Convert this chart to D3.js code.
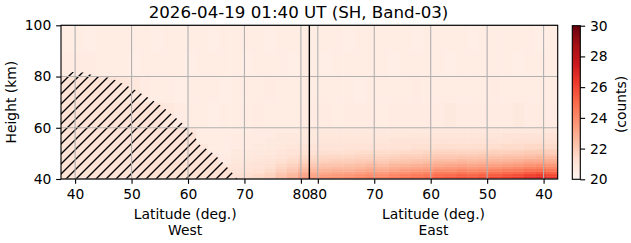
<!DOCTYPE html>
<html>
<head>
<meta charset="utf-8">
<script src="https://cdn.jsdelivr.net/npm/d3@7"></script>
<style>
  html, body { margin: 0; padding: 0; background: #ffffff; }
  svg { display: block; font-family: "DejaVu Sans", sans-serif; }
</style>
</head>
<body>
<svg id="chart" width="631" height="243"></svg>
<script>
// ---------------- data ----------------
const titleText = "2026-04-19 01:40 UT (SH, Band-03)";
const dividerLat = 81.5;
const latWestEdges = [37.5,39.5,41.5,43.5,45.5,47.5,49.5,51.5,53.5,55.5,57.5,59.5,61.5,63.5,65.5,67.5,69.5,71.5,73.5,75.5,77.5,79.5,81.5];
const latEastEdges = [81.5,79.5,77.5,75.5,73.5,71.5,69.5,67.5,65.5,63.5,61.5,59.5,57.5,55.5,53.5,51.5,49.5,47.5,45.5,43.5,41.5,39.5,37.5];
const heightEdges = [40,41,42,43,44,45,46,47,48,49,50,51,52,54,56,58,60,70,80,90,100];

const westTicks = [40,50,60,70,80];
const eastTicks = [80,70,60,50,40];
const heightTicks = [40,60,80,100];
const cbTicks = [20,22,24,26,28,30];
const colorLimits = [20,30];

// counts per height row (bottom to top), West columns ordered 38.5 -> 80.5 deg
const countsWest = [
 [21.1,21.1,21.1,21.1,21.1,21.1,21.1,21.2,21.2,21.2,21.2,21.2,21.3,21.3,21.3,21.3,21.4,21.6,21.9,22.4,22.9,23.6],
 [21.1,21.1,21.1,21.1,21.1,21.1,21.1,21.2,21.2,21.2,21.2,21.2,21.2,21.2,21.2,21.2,21.3,21.5,21.7,22.2,22.6,23.2],
 [21.1,21.1,21.1,21.1,21.1,21.1,21.1,21.2,21.2,21.2,21.2,21.2,21.2,21.2,21.2,21.1,21.2,21.3,21.6,22.0,22.3,22.9],
 [21.1,21.1,21.1,21.1,21.1,21.1,21.1,21.2,21.2,21.2,21.2,21.2,21.2,21.2,21.2,21.0,21.1,21.2,21.4,21.8,22.1,22.6],
 [21.1,21.1,21.1,21.1,21.1,21.1,21.1,21.2,21.2,21.2,21.2,21.2,21.2,21.2,21.1,21.0,21.0,21.1,21.3,21.6,21.9,22.3],
 [21.1,21.1,21.1,21.1,21.1,21.1,21.1,21.2,21.2,21.2,21.2,21.2,21.2,21.1,20.9,20.9,21.0,21.1,21.2,21.5,21.7,22.1],
 [21.1,21.1,21.1,21.1,21.1,21.1,21.1,21.2,21.2,21.2,21.2,21.2,21.1,21.1,20.6,20.8,20.9,21.0,21.1,21.3,21.5,21.8],
 [21.1,21.1,21.1,21.1,21.1,21.1,21.1,21.1,21.1,21.1,21.1,21.1,21.1,21.1,20.6,20.8,20.8,20.9,21.0,21.2,21.4,21.6],
 [21.1,21.1,21.1,21.1,21.1,21.1,21.1,21.1,21.1,21.1,21.1,21.1,21.1,21.0,20.6,20.8,20.8,20.9,20.9,21.1,21.3,21.5],
 [21.1,21.1,21.1,21.1,21.1,21.1,21.1,21.1,21.1,21.1,21.1,21.1,21.1,20.8,20.6,20.7,20.7,20.8,20.9,21.0,21.1,21.3],
 [21.1,21.1,21.1,21.1,21.1,21.1,21.1,21.1,21.1,21.1,21.1,21.1,21.1,20.6,20.5,20.7,20.7,20.8,20.8,20.9,21.1,21.2],
 [21.1,21.1,21.1,21.1,21.1,21.1,21.1,21.1,21.1,21.1,21.1,21.1,21.0,20.5,20.5,20.7,20.7,20.7,20.8,20.9,21.0,21.1],
 [21.1,21.1,21.1,21.1,21.1,21.1,21.1,21.1,21.1,21.1,21.1,21.1,20.8,20.5,20.5,20.6,20.6,20.7,20.7,20.8,20.9,21.0],
 [21.1,21.1,21.1,21.1,21.1,21.1,21.1,21.1,21.1,21.1,21.1,21.1,20.5,20.5,20.5,20.6,20.6,20.6,20.7,20.7,20.8,20.8],
 [21.1,21.1,21.1,21.1,21.1,21.1,21.1,21.1,21.1,21.1,21.1,21.1,20.5,20.5,20.5,20.6,20.6,20.6,20.6,20.7,20.7,20.7],
 [21.1,21.1,21.1,21.1,21.1,21.1,21.1,21.1,21.1,21.1,21.1,20.8,20.5,20.5,20.5,20.5,20.5,20.6,20.6,20.6,20.6,20.7],
 [21.1,21.1,21.1,21.1,21.1,21.1,21.1,21.1,21.0,20.8,20.6,20.5,20.5,20.4,20.5,20.5,20.5,20.6,20.5,20.5,20.5,20.6],
 [21.1,21.1,21.1,21.1,21.0,20.9,20.8,20.6,20.5,20.5,20.4,20.5,20.5,20.5,20.4,20.5,20.5,20.5,20.6,20.5,20.5,20.5],
 [20.6,20.6,20.6,20.5,20.5,20.5,20.4,20.5,20.5,20.5,20.5,20.4,20.5,20.5,20.5,20.5,20.4,20.5,20.5,20.5,20.4,20.5],
 [20.5,20.5,20.4,20.5,20.5,20.5,20.5,20.5,20.4,20.5,20.5,20.5,20.5,20.4,20.5,20.5,20.5,20.5,20.4,20.5,20.5,20.5]
];
// counts per height row (bottom to top), East columns ordered 80.5 -> 38.5 deg
const countsEast = [
 [23.6,23.8,23.9,24.0,24.2,24.4,24.3,24.6,24.8,25.0,25.2,25.5,25.6,25.8,25.7,25.9,26.1,26.3,26.5,26.9,27.1,26.6],
 [23.2,23.4,23.5,23.6,23.8,23.9,23.8,24.1,24.3,24.5,24.6,24.9,25.0,25.2,25.1,25.3,25.4,25.6,25.8,26.1,26.3,25.9],
 [22.9,23.0,23.1,23.2,23.3,23.5,23.4,23.7,23.8,24.0,24.1,24.4,24.4,24.6,24.5,24.7,24.8,25.0,25.1,25.4,25.6,25.2],
 [22.6,22.7,22.8,22.8,23.0,23.1,23.0,23.2,23.4,23.5,23.6,23.9,23.9,24.1,24.0,24.1,24.3,24.4,24.5,24.8,24.9,24.6],
 [22.3,22.4,22.5,22.5,22.6,22.8,22.7,22.9,23.0,23.1,23.2,23.4,23.5,23.6,23.5,23.6,23.7,23.9,24.0,24.2,24.3,24.0],
 [22.1,22.2,22.2,22.3,22.4,22.5,22.4,22.6,22.7,22.8,22.9,23.0,23.1,23.2,23.1,23.2,23.3,23.4,23.5,23.7,23.8,23.6],
 [21.8,21.9,22.0,22.0,22.1,22.2,22.1,22.3,22.3,22.4,22.5,22.7,22.7,22.8,22.7,22.8,22.9,23.0,23.1,23.3,23.3,23.1],
 [21.6,21.7,21.8,21.8,21.9,21.9,21.9,22.0,22.1,22.2,22.2,22.4,22.4,22.5,22.4,22.5,22.6,22.6,22.7,22.9,22.9,22.8],
 [21.5,21.6,21.6,21.6,21.7,21.7,21.7,21.8,21.9,21.9,22.0,22.1,22.1,22.2,22.2,22.2,22.3,22.4,22.4,22.5,22.6,22.5],
 [21.3,21.4,21.4,21.4,21.5,21.6,21.5,21.6,21.7,21.7,21.8,21.9,21.9,21.9,21.9,22.0,22.0,22.1,22.1,22.2,22.3,22.1],
 [21.2,21.3,21.3,21.3,21.4,21.4,21.4,21.4,21.5,21.5,21.6,21.7,21.7,21.7,21.7,21.7,21.8,21.8,21.9,22.0,22.0,21.9],
 [21.1,21.1,21.1,21.2,21.2,21.2,21.2,21.3,21.3,21.4,21.4,21.5,21.5,21.5,21.5,21.5,21.6,21.6,21.6,21.7,21.8,21.7],
 [21.0,21.0,21.0,21.0,21.1,21.1,21.1,21.1,21.1,21.2,21.2,21.3,21.3,21.3,21.3,21.3,21.3,21.4,21.4,21.5,21.5,21.4],
 [20.8,20.9,20.9,20.9,20.9,20.9,20.9,21.0,21.0,21.0,21.0,21.1,21.1,21.1,21.1,21.1,21.1,21.1,21.2,21.2,21.2,21.2],
 [20.7,20.8,20.8,20.8,20.8,20.8,20.8,20.8,20.8,20.9,20.9,20.9,20.9,20.9,20.9,20.9,20.9,21.0,21.0,21.0,21.0,21.0],
 [20.7,20.7,20.7,20.7,20.7,20.7,20.7,20.7,20.7,20.7,20.7,20.8,20.8,20.8,20.8,20.8,20.8,20.8,20.8,20.8,20.8,20.8],
 [20.6,20.6,20.5,20.6,20.6,20.6,20.5,20.6,20.6,20.6,20.6,20.6,20.7,20.6,20.6,20.6,20.6,20.6,20.7,20.6,20.6,20.6],
 [20.5,20.5,20.5,20.5,20.4,20.5,20.5,20.5,20.5,20.6,20.5,20.5,20.5,20.5,20.5,20.5,20.6,20.5,20.5,20.5,20.5,20.5],
 [20.5,20.4,20.5,20.5,20.5,20.5,20.5,20.4,20.5,20.5,20.5,20.5,20.4,20.5,20.5,20.5,20.5,20.5,20.4,20.5,20.5,20.5],
 [20.5,20.5,20.5,20.4,20.5,20.5,20.5,20.5,20.5,20.4,20.5,20.5,20.5,20.5,20.4,20.5,20.5,20.5,20.5,20.5,20.4,20.5]
];
// hatched (masked) region boundary, West side
const hatchLat =    [37.5, 39.5, 41.5, 43.0, 46.3, 49.0, 50.2, 53.2, 55.5, 57.3, 60.6, 62.1, 63.9, 65.6, 67.4, 68.8];
const hatchHeight = [79.2, 81.8, 81.6, 80.6, 79.4, 76.6, 75.3, 71.4, 68.2, 64.9, 58.7, 53.3, 50.9, 47.7, 43.5, 40.0];

const redsColors = ["#fff5f0","#fee0d2","#fcbba1","#fc9272","#fb6a4a","#ef3b2c","#cb181d","#a50f15","#67000d"];

// ---------------- layout ----------------
const PX = 100/72;             // points -> pixels
const pL = 61, pR = 557.7, pT = 25.3, pB = 179;
const fs = 10 * PX;

const svg = d3.select("#chart");

const xWest = d3.scaleLinear().domain([latWestEdges[0], dividerLat]).range([pL, (pL + pR) / 2]);
const xEast = d3.scaleLinear().domain([dividerLat, latEastEdges[latEastEdges.length - 1]]).range([(pL + pR) / 2, pR]);
const y = d3.scaleLinear().domain([heightTicks[0], heightTicks[heightTicks.length - 1]]).range([pB, pT]);

const colorDomain = redsColors.map((c, i) => colorLimits[0] + i * (colorLimits[1] - colorLimits[0]) / (redsColors.length - 1));
const color = d3.scaleLinear().domain(colorDomain).range(redsColors).interpolate(d3.interpolateRgb).clamp(true);

// ---------------- heatmap ----------------
const cells = [];
countsWest.forEach((row, i) => row.forEach((v, j) => cells.push({
  x0: xWest(latWestEdges[j]), x1: xWest(latWestEdges[j + 1]),
  y0: y(heightEdges[i + 1]), y1: y(heightEdges[i]), v })));
countsEast.forEach((row, i) => row.forEach((v, j) => cells.push({
  x0: xEast(latEastEdges[j]), x1: xEast(latEastEdges[j + 1]),
  y0: y(heightEdges[i + 1]), y1: y(heightEdges[i]), v })));

svg.append("g").selectAll("rect").data(cells).join("rect")
  .attr("x", d => d.x0).attr("y", d => d.y0)
  .attr("width", d => Math.min(d.x1 - d.x0 + 0.4, pR - d.x0)).attr("height", d => Math.min(d.y1 - d.y0 + 0.4, pB - d.y0))
  .attr("fill", d => color(d.v));

// ---------------- hatch ----------------
const defs = svg.append("defs");
const pat = defs.append("pattern").attr("id", "hatch")
  .attr("patternUnits", "userSpaceOnUse").attr("width", 10).attr("height", 10);
pat.append("path").attr("d", "M-1,6 L6,-1 M4,11 L11,4")
  .attr("stroke", "#000").attr("stroke-width", 1.0 * PX).attr("fill", "none");

const clip = defs.append("clipPath").attr("id", "plotclip");
clip.append("rect").attr("x", pL).attr("y", pT).attr("width", pR - pL).attr("height", pB - pT);

const hatchPts = [[hatchLat[0], heightTicks[0]]].concat(hatchLat.map((l, i) => [l, hatchHeight[i]]));
svg.append("path")
  .attr("clip-path", "url(#plotclip)")
  .attr("d", d3.line().x(d => xWest(d[0])).y(d => y(d[1]))(hatchPts) + "Z")
  .attr("fill", "url(#hatch)").attr("stroke", "none");

// ---------------- grid ----------------
const grid = svg.append("g").attr("stroke", "#b0b0b0").attr("stroke-width", 0.8 * PX).attr("fill", "none");
westTicks.forEach(t => grid.append("line").attr("x1", xWest(t)).attr("x2", xWest(t)).attr("y1", pT).attr("y2", pB));
eastTicks.forEach(t => grid.append("line").attr("x1", xEast(t)).attr("x2", xEast(t)).attr("y1", pT).attr("y2", pB));
heightTicks.forEach(t => grid.append("line").attr("x1", pL).attr("x2", pR).attr("y1", y(t)).attr("y2", y(t)));

// divider
svg.append("line").attr("x1", xWest(dividerLat)).attr("x2", xWest(dividerLat))
  .attr("y1", pT).attr("y2", pB).attr("stroke", "#000").attr("stroke-width", 1.0 * PX);

// spines
svg.append("rect").attr("x", pL).attr("y", pT).attr("width", pR - pL).attr("height", pB - pT)
  .attr("fill", "none").attr("stroke", "#000").attr("stroke-width", 0.8 * PX);

// ---------------- axes ----------------
function styleAxis(g) {
  g.select(".domain").remove();
  g.selectAll(".tick line").attr("stroke", "#000").attr("stroke-width", 0.8 * PX);
  g.selectAll(".tick text").attr("fill", "#000").style("font-size", fs + "px").style("font-family", "DejaVu Sans");
}
const tk = 3.5 * PX;
svg.append("g").attr("transform", `translate(0,${pB})`)
  .call(d3.axisBottom(xWest).tickValues(westTicks).tickFormat(d3.format("d")).tickSize(tk).tickPadding(tk))
  .call(styleAxis);
svg.append("g").attr("transform", `translate(0,${pB})`)
  .call(d3.axisBottom(xEast).tickValues(eastTicks).tickFormat(d3.format("d")).tickSize(tk).tickPadding(tk))
  .call(styleAxis);
svg.append("g").attr("transform", `translate(${pL},0)`)
  .call(d3.axisLeft(y).tickValues(heightTicks).tickFormat(d3.format("d")).tickSize(tk).tickPadding(tk))
  .call(styleAxis);

// axis labels
const txt = (x, yy, s, size, anchor) => svg.append("text").attr("x", x).attr("y", yy)
  .attr("text-anchor", anchor || "middle").style("font-size", size + "px").attr("fill", "#000").text(s);
const wC = (pL + (pL + pR) / 2) / 2, eC = ((pL + pR) / 2 + pR) / 2;
txt(wC, 219.4, "Latitude (deg.)", fs);
txt(wC, 235.2, "West", fs);
txt(eC, 219.4, "Latitude (deg.)", fs);
txt(eC, 235.2, "East", fs);
svg.append("text").attr("transform", `translate(16,${(pT + pB) / 2}) rotate(-90)`)
  .attr("text-anchor", "middle").style("font-size", fs + "px").attr("fill", "#000").text("Height (km)");
txt(298.5, 17.6, titleText, 12 * PX);

// ---------------- colorbar ----------------
const cbL = 572.3, cbW = 8, cbTop = 25.7, cbBot = 179.3;
const grad = defs.append("linearGradient").attr("id", "cbgrad").attr("x1", 0).attr("y1", 1).attr("x2", 0).attr("y2", 0);
redsColors.forEach((c, i) => grad.append("stop").attr("offset", i / (redsColors.length - 1)).attr("stop-color", c));
svg.append("rect").attr("x", cbL).attr("y", cbTop).attr("width", cbW).attr("height", cbBot - cbTop)
  .attr("fill", "url(#cbgrad)").attr("stroke", "#000").attr("stroke-width", 0.8 * PX);
const cy = d3.scaleLinear().domain(colorLimits).range([cbBot, cbTop]);
svg.append("g").attr("transform", `translate(${cbL + cbW},0)`)
  .call(d3.axisRight(cy).tickValues(cbTicks).tickFormat(d3.format("d")).tickSize(tk).tickPadding(tk))
  .call(styleAxis);
svg.append("text").attr("transform", `translate(626,${(cbTop + cbBot) / 2 + 2}) rotate(-90)`)
  .attr("text-anchor", "middle").style("font-size", fs + "px").attr("fill", "#000").text("(counts)");
</script>
</body>
</html>
